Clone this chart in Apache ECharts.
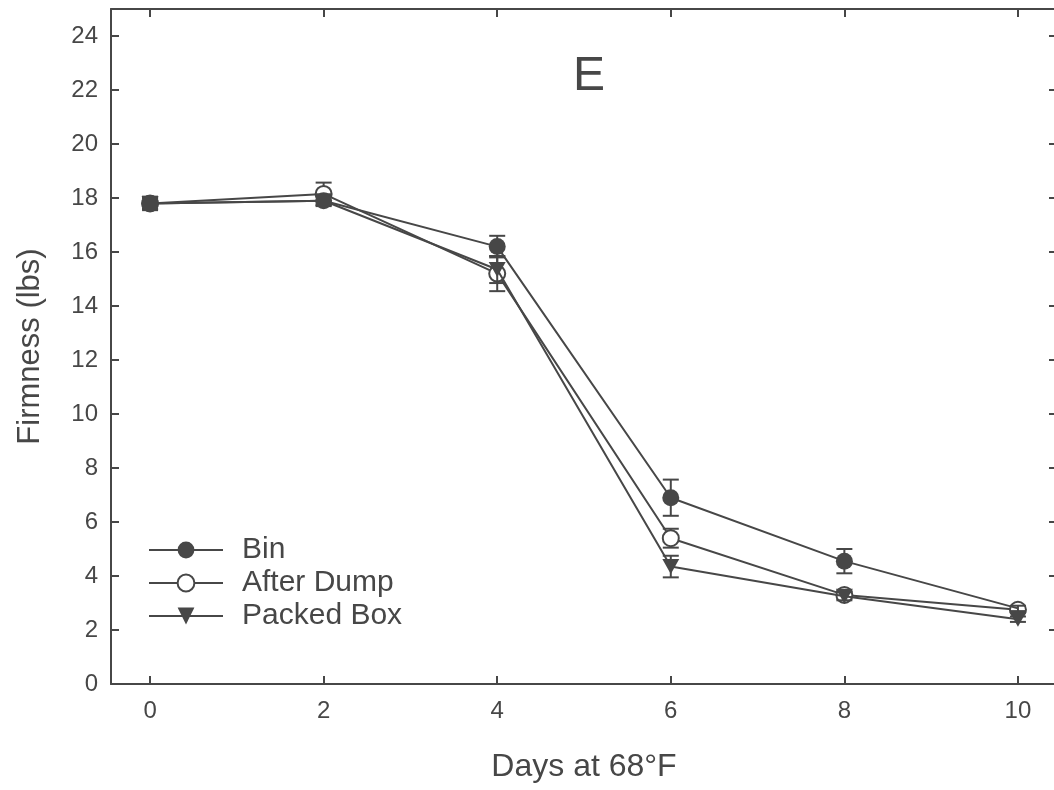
<!DOCTYPE html>
<html><head><meta charset="utf-8">
<script src="https://cdn.jsdelivr.net/npm/echarts@6/dist/echarts.min.js"></script>
<style>html,body{margin:0;padding:0;background:#fff}#c{width:1054px;height:790px}</style>
</head><body><div id="c"></div>
<script>
const days = [0, 2, 4, 6, 8, 10];
const seriesNames = ['Bin', 'After Dump', 'Packed Box'];
const binVals = [17.8, 17.9, 16.2, 6.9, 4.55, 2.8];
const afterDumpVals = [17.8, 18.15, 15.2, 5.4, 3.3, 2.75];
const packedBoxVals = [17.8, 17.9, 15.35, 4.35, 3.25, 2.4];
const binErr = [0.25, 0.15, 0.4, 0.67, 0.45, 0.1];
const afterDumpErr = [0.2, 0.42, 0.65, 0.35, 0.15, 0.1];
const packedBoxErr = [0.2, 0.2, 0.5, 0.4, 0.15, 0.1];
const yTicks = [0, 2, 4, 6, 8, 10, 12, 14, 16, 18, 20, 22, 24];
// symbols hidden where another marker fully covers them in the reference
const binHidden = [false, false, false, false, false, true];

const C = '#474747';
const F = 'Liberation Sans, Arial, sans-serif';

function pts(vals, hidden){
  return days.map((d,i)=> (hidden && hidden[i]) ? {value: [d, vals[i]], symbol: 'none'} : [d, vals[i]]);
}
function errData(vals, errs){ return days.map((d,i)=>[d, vals[i]-errs[i], vals[i]+errs[i]]); }
function errSeries(vals, errs, z){
  return {
    type: 'custom', z: z, silent: true,
    data: errData(vals, errs),
    renderItem: function(params, api){
      const lo = api.coord([api.value(0), api.value(1)]);
      const hi = api.coord([api.value(0), api.value(2)]);
      const w = 8;
      const st = {stroke: C, lineWidth: 2};
      return {type: 'group', children: [
        {type:'line', shape:{x1:lo[0], y1:lo[1], x2:hi[0], y2:hi[1]}, style: st},
        {type:'line', shape:{x1:lo[0]-w, y1:lo[1], x2:lo[0]+w, y2:lo[1]}, style: st},
        {type:'line', shape:{x1:hi[0]-w, y1:hi[1], x2:hi[0]+w, y2:hi[1]}, style: st}
      ]};
    }
  };
}

const tickStyle = {show: true, inside: true, length: 8, lineStyle: {color: C, width: 2}};
const lineStyleAx = {show: true, onZero: false, lineStyle: {color: C, width: 2}};

const chart = echarts.init(document.getElementById('c'));
chart.setOption({
  animation: false,
  backgroundColor: '#fff',
  title: {text: 'E', left: 568, top: 48, textStyle: {fontFamily: F, fontSize: 48, fontWeight: 'normal', color: C}},
  grid: {left: 111, top: 9, width: 946, height: 675, outerBoundsMode: 'none', containLabel: false},
  legend: {
    orient: 'vertical', left: 143, top: 530,
    itemWidth: 74, itemHeight: 21, itemGap: 3,
    data: seriesNames,
    textStyle: {fontFamily: F, fontSize: 30, lineHeight: 30, color: C, padding: [0, 0, 0, 14]}
  },
  xAxis: [{
    type: 'value', min: -0.45, max: 10.45,
    name: 'Days at 68°F', nameLocation: 'middle', nameGap: 67,
    nameTextStyle: {fontFamily: F, fontSize: 32, color: C},
    axisLine: lineStyleAx,
    axisTick: Object.assign({customValues: days}, tickStyle),
    axisLabel: {fontFamily: F, fontSize: 24, color: C, margin: 15, customValues: days},
    splitLine: {show: false}
  }, {
    type: 'value', position: 'top', min: -0.45, max: 10.45,
    axisLine: lineStyleAx,
    axisTick: Object.assign({customValues: days}, tickStyle),
    axisLabel: {show: false},
    splitLine: {show: false}
  }],
  yAxis: [{
    type: 'value', min: 0, max: 25,
    name: 'Firmness (lbs)', nameLocation: 'middle', nameGap: 65,
    nameTextStyle: {fontFamily: F, fontSize: 31, color: C},
    axisLine: lineStyleAx,
    axisTick: Object.assign({customValues: yTicks}, tickStyle),
    axisLabel: {fontFamily: F, fontSize: 24, color: C, margin: 13, customValues: yTicks},
    splitLine: {show: false}
  }, {
    type: 'value', position: 'right', min: 0, max: 25,
    axisLine: lineStyleAx,
    axisTick: Object.assign({customValues: yTicks}, tickStyle),
    axisLabel: {show: false},
    splitLine: {show: false}
  }],
  series: [
    errSeries(afterDumpVals, afterDumpErr, 1),
    {name: 'After Dump', type: 'line', z: 2, data: pts(afterDumpVals), symbol: 'circle', symbolSize: 16,
     lineStyle: {color: C, width: 2}, itemStyle: {color: '#fff', borderColor: C, borderWidth: 2}},
    errSeries(packedBoxVals, packedBoxErr, 3),
    {name: 'Packed Box', type: 'line', z: 4, data: pts(packedBoxVals), symbol: 'triangle', symbolRotate: 180, symbolSize: [17, 15],
     lineStyle: {color: C, width: 2}, itemStyle: {color: C}},
    errSeries(binVals, binErr, 5),
    {name: 'Bin', type: 'line', z: 6, data: pts(binVals, binHidden), symbol: 'circle', symbolSize: 17,
     lineStyle: {color: C, width: 2}, itemStyle: {color: C}}
  ]
});
</script></body></html>
